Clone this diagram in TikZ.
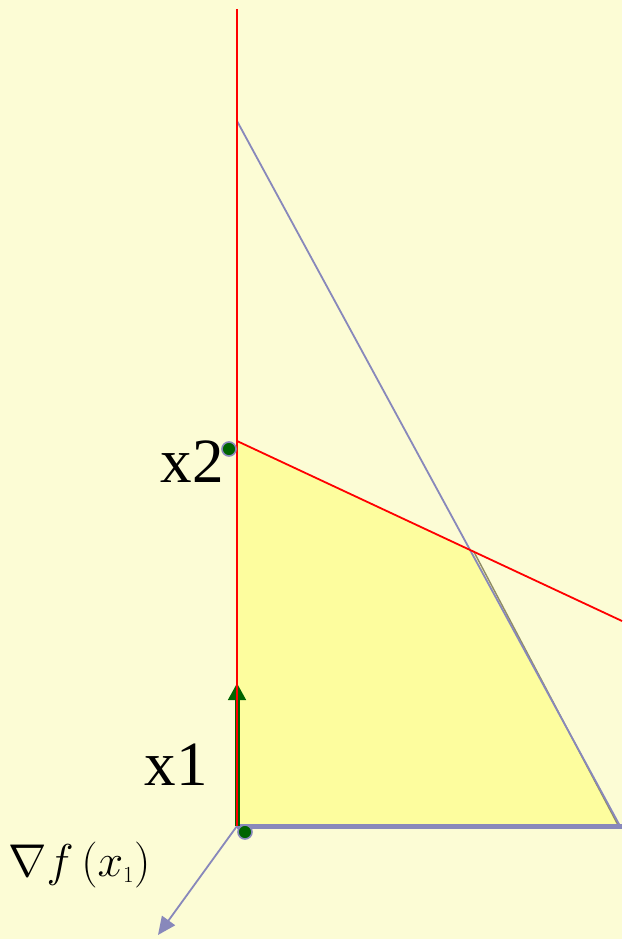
\RequirePackage{fix-cm}
\documentclass[tikz,border=0pt]{standalone}
\usepackage{fontspec}
\setmainfont{Liberation Serif}
\usetikzlibrary{arrows.meta}
\definecolor{bg}{RGB}{252,252,213}
\definecolor{feas}{RGB}{253,253,158}
\definecolor{lav}{RGB}{136,136,187}
\definecolor{dgreen}{RGB}{0,100,0}
\definecolor{myred}{RGB}{255,0,0}
\begin{document}
\begin{tikzpicture}[x=1pt,y=-1pt,
  redline/.style={draw=myred,line width=1.8pt},
  lavline/.style={draw=lav,line width=1.8pt},
  dot/.style={circle,fill=dgreen,draw=lav,line width=1.6pt,minimum size=14pt,inner sep=0pt},
  lbl/.style={font=\fontsize{63}{63}\selectfont,inner sep=0pt}]
\fill[bg] (0,0) rectangle (622,939);
\useasboundingbox (0,0) rectangle (622,939);
% coordinates
\coordinate (O) at (237,826);
\coordinate (P2) at (237,441);
\coordinate (Q) at (472,551);
\coordinate (R) at (620,826);
\coordinate (Top) at (237,9);
\coordinate (BT) at (237,121);
\coordinate (RE) at (622,621);
\coordinate (BE) at (622,826);
\coordinate (A1) at (237,683);
\coordinate (G) at (158,935);
% feasible region
\fill[feas] (P2) -- (Q) -- (R) -- (O) -- cycle;
\draw[draw=gray!70!olive,line width=1.4pt] ([xshift=1.5pt]Q) -- ([xshift=-1.5pt]R);
% constraint lines
\draw[lavline] (BT) -- (R);
\draw[draw=lav,line width=5pt] (O) -- (BE);
\draw[redline] (P2) -- (RE);
% gradient arrow
\draw[lavline,-{Triangle[length=18pt,width=16pt]}] (O) -- (G);
% green arrow
\draw[draw=dgreen,line width=5pt,-{Triangle[length=17pt,width=17pt]}] (O) -- (A1);
\draw[redline] (Top) -- (O);
% points
\node[dot] (d2) at (229,449) {};
\node[dot] (d1) at (245,832) {};
% labels
\node[lbl,anchor=base] (l2) at (192,482) {x2};
\node[lbl,anchor=base] (l1) at (176,785) {x1};
\node[inner sep=0pt,anchor=base west] (lg) at (8,876) {\fontsize{46}{46}\selectfont$\nabla f\,(x_{\scriptscriptstyle 1})$};
\end{tikzpicture}
\end{document}
